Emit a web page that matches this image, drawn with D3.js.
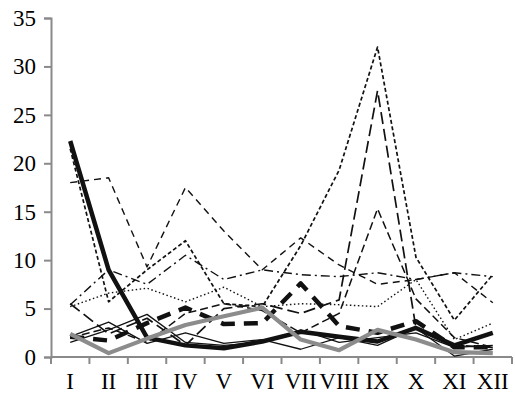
<!DOCTYPE html>
<html>
<head>
<meta charset="utf-8">
<script src="https://cdn.jsdelivr.net/npm/d3@7/dist/d3.min.js"></script>
<style>
  html, body { margin: 0; padding: 0; background: #fff; }
  svg { display: block; }
  text { font-family: "Liberation Serif", "Times New Roman", serif; font-size: 23px; fill: #000; }
</style>
</head>
<body>
<svg id="chart" width="515" height="394"></svg>
<script>
const months = ["I","II","III","IV","V","VI","VII","VIII","IX","X","XI","XII"];
const yTicks = [0, 5, 10, 15, 20, 25, 30, 35];

const thickSolid  = [22.3, 9.0, 2.0, 1.2, 0.9, 1.6, 2.6, 2.1, 1.6, 3.0, 1.2, 2.5];
const thickGray   = [2.4, 0.4, 1.9, 3.3, 4.2, 5.1, 1.8, 0.7, 2.8, 1.8, 0.5, 0.4];
const thickDashed = [2.1, 1.7, 3.5, 5.1, 3.4, 3.5, 7.6, 3.2, 2.5, 3.7, 1.0, 1.0];
const shortDash   = [21.5, 5.7, 9.0, 12.0, 5.5, 5.2, 11.5, 19.3, 32.0, 10.3, 3.8, 8.5];
const mediumDash  = [18.0, 18.5, 9.3, 17.5, 13.0, 9.0, 12.3, 9.5, 7.5, 8.0, 8.7, 5.6];
const longDash    = [5.5, 2.4, 4.0, 1.2, 5.0, 5.5, 4.5, 5.9, 27.5, 3.0, 1.2, 1.0];
const medLongDash = [2.0, 3.0, 1.5, 4.5, 5.5, 4.8, 2.5, 4.5, 15.3, 6.0, 2.0, 1.0];
const dashDot     = [5.4, 9.0, 7.5, 10.5, 8.0, 9.0, 8.5, 8.3, 8.7, 8.0, 8.7, 8.3];
const dotted      = [5.2, 6.6, 7.1, 5.7, 7.2, 5.2, 5.5, 5.4, 5.2, 8.0, 1.8, 3.5];
const thinSolid1  = [2.1, 3.6, 1.4, 2.5, 1.4, 1.8, 0.8, 2.0, 1.2, 3.0, 0.1, 0.8];
const thinSolid2  = [1.5, 2.8, 4.4, 1.5, 1.2, 1.5, 2.8, 1.5, 2.0, 2.5, 1.0, 1.2];

const series = [
  {values: shortDash,   color: "#111", width: 1.7, dash: "4,2.5"},
  {values: mediumDash,  color: "#111", width: 1.4, dash: "7,5"},
  {values: longDash,    color: "#111", width: 1.7, dash: "12,5"},
  {values: medLongDash, color: "#111", width: 1.5, dash: "8,4"},
  {values: dashDot,     color: "#111", width: 1.4, dash: "9,4,2,4"},
  {values: dotted,      color: "#111", width: 1.4, dash: "1.5,2.5"},
  {values: thinSolid1,  color: "#111", width: 1.3, dash: null},
  {values: thinSolid2,  color: "#111", width: 1.3, dash: null},
  {values: thickDashed, color: "#111", width: 4.5, dash: "14,9"},
  {values: thickSolid,  color: "#111", width: 4.5, dash: null},
  {values: thickGray,   color: "#8c8c8c", width: 4.2, dash: null}
];

const svg = d3.select("#chart");
const padL = 51, padR = 512, padT = 18, padB = 357;

const x = d3.scaleBand().domain(months).range([padL, padR]);
const y = d3.scaleLinear().domain([0, 35]).range([padB, padT]);

const axisColor = "#8a8a8a";

// y axis
const yAxis = svg.append("g").attr("transform", `translate(${padL},0)`)
  .call(d3.axisLeft(y).tickValues(yTicks).tickSize(7).tickPadding(8).tickFormat(d3.format("d")));
yAxis.select(".domain").attr("stroke", axisColor).attr("stroke-width", 2);
yAxis.selectAll(".tick line").attr("stroke", axisColor).attr("stroke-width", 2);
yAxis.selectAll("text").attr("font-size", 23).attr("font-family", "Liberation Serif, serif").attr("fill", "#000");

// x axis (ticks at band boundaries)
const xAxis = svg.append("g").attr("transform", `translate(0,${padB})`);
xAxis.append("line").attr("x1", padL).attr("x2", padR).attr("y1", 0).attr("y2", 0)
  .attr("stroke", axisColor).attr("stroke-width", 2);
const bounds = months.map(m => x(m)).concat([padR]);
xAxis.selectAll("line.tk").data(bounds).enter().append("line")
  .attr("class", "tk").attr("x1", d => d).attr("x2", d => d).attr("y1", 0).attr("y2", 7)
  .attr("stroke", axisColor).attr("stroke-width", 2);
xAxis.selectAll("text").data(months).enter().append("text")
  .attr("x", d => x(d) + x.bandwidth() / 2).attr("y", 32)
  .attr("text-anchor", "middle").text(d => d);

const line = d3.line().x((d, i) => x(months[i]) + x.bandwidth() / 2).y(d => y(d));

svg.append("g").selectAll("path").data(series).enter().append("path")
  .attr("d", d => line(d.values))
  .attr("fill", "none")
  .attr("stroke", d => d.color)
  .attr("stroke-width", d => d.width)
  .attr("stroke-dasharray", d => d.dash)
  .attr("stroke-linejoin", "round");
</script>
</body>
</html>
